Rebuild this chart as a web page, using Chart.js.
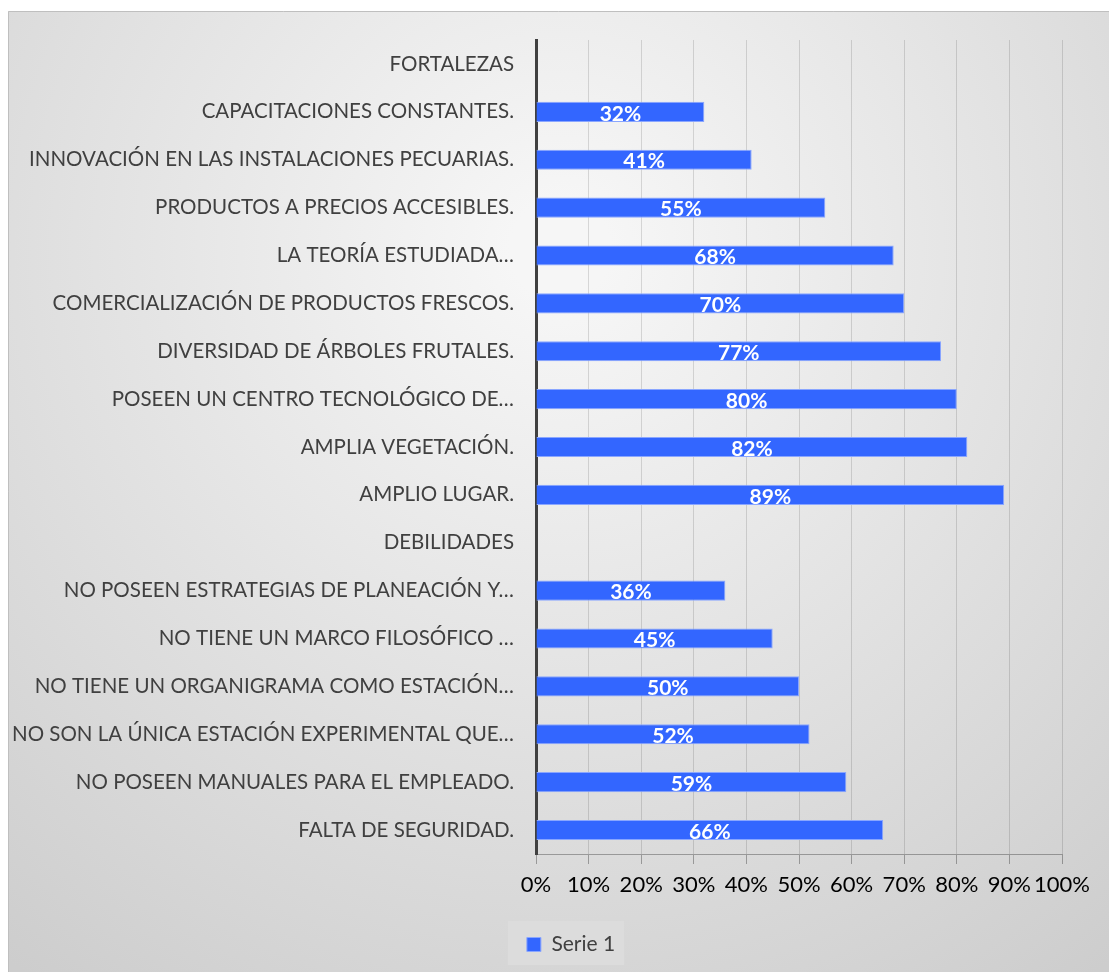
<!DOCTYPE html>
<html>
<head>
<meta charset="utf-8">
<script src="https://cdn.jsdelivr.net/npm/chart.js@4"></script>
<style>
  html, body { margin: 0; padding: 0; background: #fff; }
  canvas { display: block; }
</style>
</head>
<body>
<canvas id="chartBar" width="1109" height="972"></canvas>
<script>
const categories = [
  "FORTALEZAS",
  "CAPACITACIONES CONSTANTES.",
  "INNOVACIÓN EN LAS INSTALACIONES PECUARIAS.",
  "PRODUCTOS A PRECIOS ACCESIBLES.",
  "LA TEORÍA ESTUDIADA…",
  "COMERCIALIZACIÓN DE PRODUCTOS FRESCOS.",
  "DIVERSIDAD DE ÁRBOLES FRUTALES.",
  "POSEEN UN CENTRO TECNOLÓGICO DE…",
  "AMPLIA VEGETACIÓN.",
  "AMPLIO LUGAR.",
  "DEBILIDADES",
  "NO POSEEN ESTRATEGIAS DE PLANEACIÓN Y…",
  "NO TIENE UN MARCO FILOSÓFICO …",
  "NO TIENE UN ORGANIGRAMA COMO ESTACIÓN…",
  "NO SON LA ÚNICA ESTACIÓN EXPERIMENTAL QUE…",
  "NO POSEEN MANUALES PARA EL EMPLEADO.",
  "FALTA DE SEGURIDAD."
];
const serie1 = [null, 32, 41, 55, 68, 70, 77, 80, 82, 89, null, 36, 45, 50, 52, 59, 66];
const seriesName = "Serie 1";
const xTicks = [0, 10, 20, 30, 40, 50, 60, 70, 80, 90, 100];

const FONT = "Lato, 'Open Sans', sans-serif";

// background panel + legend box, legend nudged right like the original
const backgroundPlugin = {
  id: "bgPanel",
  afterUpdate(chart) {
    const lg = chart.legend;
    if (!lg) return;
    lg.left += 40;
    lg.right += 40;
    lg.adjustHitBoxes();
  },
  beforeDraw(chart) {
    const ctx = chart.ctx;
    ctx.save();
    ctx.fillStyle = "#ffffff";
    ctx.fillRect(0, 0, chart.width, chart.height);
    const g = ctx.createRadialGradient(560, 250, 50, 560, 250, 900);
    g.addColorStop(0, "#f6f6f6");
    g.addColorStop(1, "#cdcdcd");
    ctx.fillStyle = g;
    ctx.fillRect(8, 11, chart.width - 8, chart.height - 11);
    ctx.strokeStyle = "#bfbfbf";
    ctx.lineWidth = 1;
    ctx.beginPath();
    ctx.moveTo(8.5, chart.height);
    ctx.lineTo(8.5, 11.5);
    ctx.lineTo(chart.width, 11.5);
    ctx.stroke();

    const hb = chart.legend && chart.legend.legendHitBoxes && chart.legend.legendHitBoxes[0];
    if (hb) {
      ctx.fillStyle = "#dcdcdc";
      ctx.fillRect(hb.left - 19, chart.legend.top, hb.width + 28, chart.legend.height);
    }
    ctx.restore();
  }
};

// value labels inside the bars
const valueLabels = {
  id: "valueLabels",
  afterDatasetsDraw(chart) {
    const ctx = chart.ctx;
    const meta = chart.getDatasetMeta(0);
    ctx.save();
    ctx.fillStyle = "#ffffff";
    ctx.font = "bold 21px " + FONT;
    ctx.textAlign = "center";
    ctx.textBaseline = "middle";
    meta.data.forEach((bar, i) => {
      const v = serie1[i];
      if (v == null) return;
      const x = (bar.base + bar.x) / 2;
      ctx.fillText(v + "%", x, bar.y + 2);
    });
    ctx.restore();
  }
};

const ctx = document.getElementById("chartBar").getContext("2d");
new Chart(ctx, {
  type: "bar",
  data: {
    labels: categories,
    datasets: [
      {
        label: seriesName,
        data: serie1,
        backgroundColor: "#3366ff",
        borderColor: "#8aa6ff",
        borderWidth: 1,
        barPercentage: 0.42,
        categoryPercentage: 1
      }
    ]
  },
  options: {
    indexAxis: "y",
    responsive: false,
    animation: false,
    layout: {
      padding: { left: 0, top: 40, right: 47, bottom: 7 }
    },
    scales: {
      x: {
        min: 0,
        max: 100,
        afterFit: (scale) => { scale.height = 67; },
        afterBuildTicks: (scale) => { scale.ticks = xTicks.map((v) => ({ value: v })); },
        grid: { color: "rgba(0,0,0,0.13)", tickLength: 10, tickColor: "rgba(0,0,0,0.3)" },
        border: { color: "rgba(0,0,0,0.3)", width: 1 },
        ticks: {
          color: "#000000",
          font: { family: FONT, size: 22 },
          padding: 8,
          maxRotation: 0,
          autoSkip: false,
          callback: (v) => v + "%"
        }
      },
      y: {
        afterFit: (scale) => { scale.width = 536; },
        grid: { display: false, drawTicks: false },
        border: { color: "#404040", width: 3 },
        ticks: {
          color: "#404040",
          font: { family: FONT, size: 20.5 },
          padding: 22,
          autoSkip: false
        }
      }
    },
    plugins: {
      legend: {
        position: "bottom",
        labels: {
          color: "#404040",
          font: { family: FONT, size: 21 },
          boxWidth: 14,
          boxHeight: 14,
          padding: 13
        }
      },
      tooltip: { enabled: false }
    }
  },
  plugins: [backgroundPlugin, valueLabels]
});
</script>
</body>
</html>
